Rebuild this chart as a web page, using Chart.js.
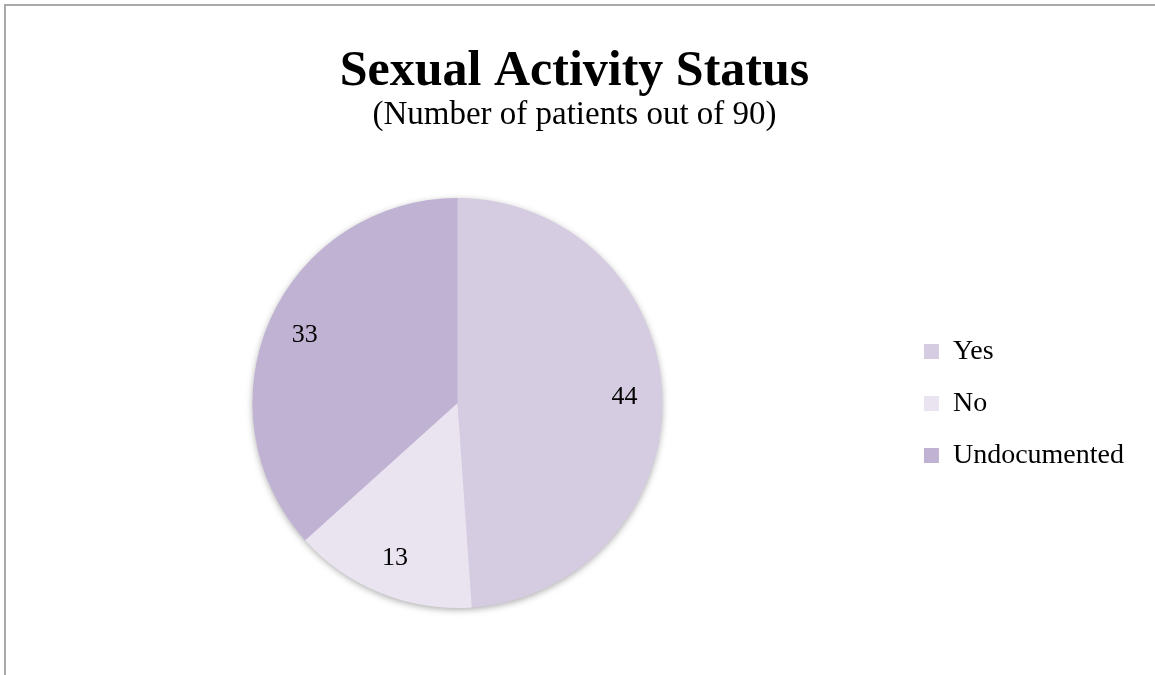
<!DOCTYPE html>
<html>
<head>
<meta charset="utf-8">
<script src="https://cdn.jsdelivr.net/npm/chart.js@4.4.1/dist/chart.umd.min.js"></script>
<style>
  html, body { margin: 0; padding: 0; background: #ffffff; }
  #wrap { position: relative; width: 1155px; height: 675px; overflow: hidden; }
  #frame { position: absolute; left: 4px; top: 4px; width: 1160px; height: 680px;
           border-top: 2px solid #a9a9a9; border-left: 2px solid #a9a9a9; box-sizing: border-box; pointer-events: none; }
  canvas { position: absolute; left: 0; top: 0; }
</style>
</head>
<body>
<div id="wrap">
  <canvas id="c" width="1155" height="675"></canvas>
  <div id="frame"></div>
</div>
<script>
const chartTitle = 'Sexual Activity Status';
const chartSubtitle = '(Number of patients out of 90)';
const categories = ['Yes', 'No', 'Undocumented'];
const patientCounts = [44, 13, 33];
const sliceColors = ['#D5CCE1', '#EAE4F1', '#C0B2D3'];

const SERIF = '"Liberation Serif", "Times New Roman", serif';

const shadowPlugin = {
  id: 'pieShadow',
  beforeDatasetsDraw(chart) {
    const meta = chart.getDatasetMeta(0);
    if (!meta.data.length) return;
    const arc = meta.data[0];
    const ctx = chart.ctx;
    ctx.save();
    ctx.shadowColor = 'rgba(0,0,0,0.35)';
    ctx.shadowBlur = 7;
    ctx.shadowOffsetX = 0;
    ctx.shadowOffsetY = 2;
    ctx.beginPath();
    ctx.arc(arc.x, arc.y, arc.outerRadius - 0.5, 0, Math.PI * 2);
    ctx.fillStyle = '#d0c6dc';
    ctx.fill();
    ctx.restore();
  }
};

const labelPlugin = {
  id: 'sliceLabels',
  afterDatasetsDraw(chart) {
    const meta = chart.getDatasetMeta(0);
    const ds = chart.data.datasets[0];
    const ctx = chart.ctx;
    ctx.save();
    ctx.font = '26px ' + SERIF;
    ctx.fillStyle = '#000000';
    ctx.textAlign = 'center';
    ctx.textBaseline = 'middle';
    meta.data.forEach((arc, i) => {
      const mid = (arc.startAngle + arc.endAngle) / 2;
      const r = arc.outerRadius * 0.815;
      ctx.fillText(String(ds.data[i]), arc.x + Math.cos(mid) * r, arc.y + Math.sin(mid) * r);
    });
    ctx.restore();
  }
};

new Chart(document.getElementById('c'), {
  type: 'pie',
  data: {
    labels: categories,
    datasets: [{
      data: patientCounts,
      backgroundColor: sliceColors,
      borderWidth: 0,
      hoverOffset: 0
    }]
  },
  plugins: [shadowPlugin, labelPlugin],
  options: {
    responsive: false,
    animation: false,
    layout: { padding: { left: 15, right: 21, top: 0, bottom: 67 } },
    plugins: {
      tooltip: { enabled: false },
      title: {
        display: true,
        text: chartTitle,
        color: '#000000',
        font: { family: SERIF, size: 50, weight: 'bold', lineHeight: 1.0 },
        padding: { top: 47, bottom: 0 }
      },
      subtitle: {
        display: true,
        text: chartSubtitle,
        color: '#000000',
        font: { family: SERIF, size: 33, weight: 'normal', lineHeight: 1.0 },
        padding: { top: 1.5, bottom: 66.5 }
      },
      legend: {
        display: true,
        position: 'right',
        align: 'center',
        title: {
          display: true,
          text: ' ',
          font: { family: SERIF, size: 10, lineHeight: 1.0 },
          padding: { top: 94.5, bottom: 94.5 }
        },
        labels: {
          color: '#000000',
          font: { family: SERIF, size: 28 },
          boxWidth: 15,
          boxHeight: 15,
          padding: 24
        }
      }
    }
  }
});
</script>
</body>
</html>
